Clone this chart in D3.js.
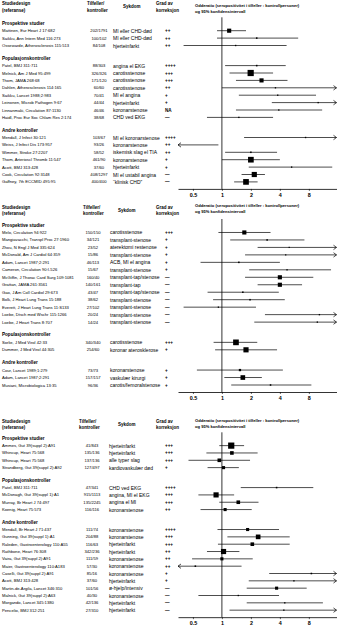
<!DOCTYPE html>
<html><head><meta charset="utf-8">
<script src="https://cdn.jsdelivr.net/npm/d3@7"></script>
<style>body{margin:0;background:#fff}text{font-family:"Liberation Sans",Arial,sans-serif;fill:#000}</style>
</head><body>
<svg id="c" width="340" height="629"></svg>
<script>
// ---------- shared ----------
const sectionNames = ["Prospektive studier","Populasjonskontroller","Andre kontroller"];
const tickValues = [0.5,1,2,4,8];
const tickLabels = ["0.5","1","2","4","8"];

// ---------- panel 1 ----------
const p1Section = [0,0,0,1,1,1,1,1,1,1,1,2,2,2,2,2,2,2];
const p1Study = ["Mattinen, Eur Heart J 17:682","Saikku, Ann Intern Med 116:273","Ossewarde, Atherosclerosis 115:513",
 "Patel, BMJ 311:711","Melnick, Am J Med 95:499","Thom, JAMA 268:68","Dahlen, Atherosclerosis 114:165","Saikku, Lancet 1988;2:983","Leinonen, Microb Pathogen 9:67","Linnanmaki, Circulation 87:1130","Haidl, Proc Eur Soc Chlam Res 2:174",
 "Mendall, J Infect 30:121","Weiss, J Infect Dis 173:957","Wimmer, Stroke 27:2207","Thom, Arterioscl Thromb 11:547","Acott, BMJ 313:428","Cook, Circulation 92:3148","Gaffney, 7th ECCMID 495:95"];
const p1Cases = ["202/1791","100/102","84/108","88/303","326/326","171/120","60/60","70/41","44/44","46/46","38/68","103/67","93/26","58/52","461/90","37/60","408/1297","400/400"];
const p1Disease = ["MI eller CHD-død","MI eller CHD-død","hjerteinfarkt","angina el EKG","carotisstenose","carotisstenose","carotisstenose","MI el angina","hjerteinfarkt","koronarstenose","CHD ved EKG","MI el koronarstenose","koronarstenose","iskemisk slag el TIA","koronarstenose","hjerteinfarkt","MI el ustabil angina","\u201Cklinisk CHD\u201D"];
const p1Grade = ["++","++","++","++++","+++","+++","++","+","+","NA","\u2014","++++","++","++","+","+","\u2014","\u2014"];
const p1OR   = [1.19,2.3,1.39,2.3,1.99,2.58,3.6,3.8,10,3.9,1.5,7.4,null,2.0,2.0,5.3,2.17,1.78];
const p1Low  = [0.89,0.89,0.40,1.08,1.2,1.4,1.0,1.5,3.3,1.4,0.7,1.7,0.1,1.08,1.0,1.9,1.6,1.34];
const p1High = [1.78,6.2,4.7,4.6,3.4,4.8,20,9.5,20,11,3.4,20,0.92,3.74,4.0,14,2.8,2.35];
const p1Weight = [4,1.5,1.3,1.5,6,4,1.3,1.3,1.3,1.3,1.3,1.3,0,1.5,5.5,1.3,5,5.5];

// ---------- panel 2 ----------
const p2Section = [0,0,0,0,0,0,0,0,0,0,0,0,0,1,1,2,2,2];
const p2Study = ["Melo, Circulation 94:922","Mangiavacchi, Transpl Proc 27:1960","Zhou, N Engl J Med 335:624","McDonald, Am J Cardiol 64:359","Adam, Lancet 1987;2:291","Cameron, Circulation 90:I-526","McGiffin, J Thorac Card Surg 109:1081","Grattan, JAMA 261:3561","Gao, J Am Coll Cardiol 29:673","Bolk, J Heart Lung Trans 15:188","Everett, J Heart Lung Trans 11:S133","Loebe, Dtsch med Wschr 115:1266","Loebe, J Heart Trans 8:707",
 "Sorlie, J Med Virol 42:33","Dummer, J Med Virol 44:305",
 "Cour, Lancet 1989;1:279","Adam, Lancet 1987;2:291","Musiani, Microbiologica 13:35"];
const p2Cases = ["150/150","34/121","23/52","15/86","46/113","15/67","160/40","140/161","43/47","38/62","27/102","20/24","14/24","340/340","254/60","73/73","157/157","96/36"];
const p2Disease = ["carotisstenose","transplant-stenose","aterektomi restenose","transplant-stenose","ACB, MI el angina","transplant-stenose","transplant-tap/stenose","transplant-tap","transplant-tap/stenose","transplant-stenose","transplant-stenose","transplant-stenose","transplant-stenose","carotisstenose","koronar aterosklerose","koronarstenose","vaskulær kirurgi","carotis/femoralstenose"];
const p2Grade = ["+++","+","+","+","+","+","\u2014","\u2014","\u2014","\u2014","\u2014","\u2014","\u2014","+++","+","+","+","+"];
const p2OR   = [1.71,2.95,5.0,4.6,1.5,4.75,4.0,4.0,1.65,1.96,0.92,10.3,9.8,1.4,1.78,1.54,1.65,3.2];
const p2Low  = [0.92,1.22,2.35,1.74,0.6,1.92,1.74,2.35,0.71,0.81,0.4,2.8,2.17,0.82,0.85,0.55,1.06,1.25];
const p2High = [3.2,7.2,20,20,4.0,13.6,8.9,6.8,3.9,4.5,2.26,20,20,2.33,3.74,4.3,2.6,8.5];
const p2Weight = [4,1.5,1.2,1.2,1.5,1.3,4,4,1.5,1.5,1.3,1.3,1.3,5.5,5,2.2,4.5,1.5];

// ---------- panel 3 ----------
const p3Section = [0,0,0,0,1,1,1,1,2,2,2,2,2,2,2,2,2,2,2,2];
const p3Study = ["Ammes, Gut 39(suppl 2):A91","Whincup, Heart 75:568","Whincup, Heart 75:568","Strandberg, Gut 39(suppl 2):A92",
 "Patel, BMJ 311:711","McDonagh, Gut 39(suppl 1):A1","Murray, Br Heart J 74:497","Koenig, Heart 75:573",
 "Mendall, Br Heart J 71:437","Gunning, Gut 39(suppl 1):A1","Raleden, Gastroenterology 110:A55","Rathbone, Heart 76:308","Vaira, Gut 39(suppl 2):A91","Maier, Gastroenterology 110:A183","Caselli, Gut 39(suppl 2):A91","Acott, BMJ 313:428","Martin-de-Argila, Lancet 346:310","Malnick, Gut 39(suppl 2):A63","Morgando, Lancet 345:1380","Pencelio, BMJ 312:251"];
const p3Cases = ["41/843","135/136","137/136","127/497","47/341","915/1113","135/2245","116/116","111/74","204/88","116/63","342/236","111/59","57/30","85/16","37/60","101/56","40/30","42/136","27/310"];
const p3Disease = ["hjerteinfarkt","hjerteinfarkt","alle typer slag","kardiovaskulær død","CHD ved EKG","angina, MI el EKG","angina el MI","koronarstenose","koronarstenose","koronarstenose","hjerteinfarkt","hjerteinfarkt","koronarstenose","koronarstenose","koronarstenose","hjerteinfarkt","ø-hjelp/intensiv","koronarstenose","hjerteinfarkt","hjerteinfarkt"];
const p3Grade = ["+++","+++","+++","+","++++","+++","+++","++","++++","+++","+++","++","++","++","+","+","\u2014","\u2014","\u2014","\u2014"];
const p3OR   = [1.25,1.27,0.94,1.04,3.7,0.87,1.48,1.08,1.85,2.38,2.07,1.04,1.0,0.53,8.5,5.6,3.7,1.48,4.5,4.4];
const p3Low  = [0.94,0.69,0.45,0.71,1.57,0.57,0.94,0.6,0.9,1.14,0.91,0.7,0.49,0.2,3.1,1.9,1.81,0.57,1.81,1.2];
const p3High = [1.7,2.35,1.96,1.5,8.9,1.34,2.4,2.04,3.92,5.06,5.06,1.52,2.09,1.6,20,20,7.6,3.92,11.2,20];
const p3Weight = [6,3.5,3.5,3,1.5,5,3.5,3,3,4.5,3.5,5,3,1.5,1.5,1.3,3,1.3,1.3,1.3];

// ---------- layout (positions only) ----------
const panels = [
  {section:p1Section, study:p1Study, cases:p1Cases, disease:p1Disease, grade:p1Grade, or:p1OR, lo:p1Low, hi:p1High, w:p1Weight,
   hdr1:3.5, hdr2:10, ratio1:5, ratio2:11, title0:23.3, step:7.4, casesX:99, disX:113, thX:87, syX:123},
  {section:p2Section, study:p2Study, cases:p2Cases, disease:p2Disease, grade:p2Grade, or:p2OR, lo:p2Low, hi:p2High, w:p2Weight,
   hdr1:207.3, hdr2:213.3, ratio1:205, ratio2:211, title0:225, step:7.47, casesX:93, disX:110, thX:83, syX:118},
  {section:p3Section, study:p3Study, cases:p3Cases, disease:p3Disease, grade:p3Grade, or:p3OR, lo:p3Low, hi:p3High, w:p3Weight,
   hdr1:421, hdr2:427, ratio1:420, ratio2:426.7, title0:438.3, step:7.33, casesX:92, disX:109, thX:79, syX:118}
];

const svg = d3.select("#c");
const x = d3.scaleLog().domain([0.35, 15.5]).range([178, 336.5]);
const [dMin, dMax] = x.domain();
const size = d3.scaleLinear().domain([0,6]).range([0,6.2]);
const gradeX = 165;
const bodyFont = 4.15, bigFont = 5.0, boldFont = 4.5;

panels.forEach(p => {
  const g = svg.append("g");
  const bold = (t, xx, yy, fs=boldFont) => g.append("text").attr("x", xx).attr("y", yy)
      .attr("dominant-baseline","central").attr("font-size", fs).attr("font-weight","bold").text(t);
  // headers
  bold("Studiedesign", 2, p.hdr1); bold("(referanse)", 2, p.hdr2);
  bold("Tilfeller/", p.thX, p.hdr1); bold("kontroller", p.thX, p.hdr2);
  bold("Sykdom", p.syX, (p.hdr1+p.hdr2)/2);
  bold("Grad av", 156, p.hdr1); bold("korreksjon", 156, p.hdr2);
  bold("Odderatio (seropositivitet i tilfeller : kontrollpersoner)", 195, p.ratio1, 4.1);
  bold("og 95% konfidensintervall", 195, p.ratio2, 4.1);

  // compute row positions
  const ys = []; let y = p.title0; let cur = -1; const titles = [];
  p.section.forEach((s, i) => {
    if (s !== cur) {
      if (cur !== -1) y += p.step + 5.3;
      titles.push({name: sectionNames[s], y: y});
      cur = s;
    }
    y += p.step; ys.push(y);
  });
  titles.forEach(t => bold(t.name, 2, t.y, 4.6));

  const axisY = ys[ys.length-1] + 7;
  // reference line
  g.append("line").attr("x1", x(1)).attr("x2", x(1)).attr("y1", p.title0 - 6).attr("y2", axisY)
    .attr("stroke","#000").attr("stroke-width",0.8);

  p.study.forEach((name, i) => {
    const yy = ys[i];
    g.append("text").attr("x", 2).attr("y", yy).attr("dominant-baseline","central").attr("font-size", bodyFont).text(name);
    g.append("text").attr("x", p.casesX).attr("y", yy).attr("text-anchor","middle").attr("dominant-baseline","central").attr("font-size", bodyFont).text(p.cases[i]);
    g.append("text").attr("x", p.disX).attr("y", yy).attr("dominant-baseline","central").attr("font-size", bigFont).text(p.disease[i]);
    g.append("text").attr("x", gradeX).attr("y", yy).attr("dominant-baseline","central").attr("font-size", 4.6).attr("font-weight","bold").text(p.grade[i]);

    const lo = p.lo[i], hi = p.hi[i], or = p.or[i];
    const x1 = x(Math.max(lo, dMin)), x2 = x(Math.min(hi, dMax));
    g.append("line").attr("x1", x1).attr("x2", x2).attr("y1", yy).attr("y2", yy).attr("stroke","#000").attr("stroke-width",0.7);
    if (hi > dMax) g.append("path").attr("d", `M${x2-3},${yy-2.2}L${x2},${yy}L${x2-3},${yy+2.2}`).attr("fill","none").attr("stroke","#000").attr("stroke-width",0.7);
    if (lo < dMin) g.append("path").attr("d", `M${x1+3},${yy-2.2}L${x1},${yy}L${x1+3},${yy+2.2}`).attr("fill","none").attr("stroke","#000").attr("stroke-width",0.7);
    if (or != null && or >= dMin && or <= dMax && p.w[i] > 0) {
      const s = size(p.w[i]);
      g.append("rect").attr("x", x(or) - s/2).attr("y", yy - s/2).attr("width", s).attr("height", s).attr("fill","#000");
    }
  });

  const axis = d3.axisBottom(x).tickValues(tickValues).tickFormat((d,i) => tickLabels[i]).tickSizeInner(2).tickSizeOuter(0).tickPadding(2.5);
  const ag = g.append("g").attr("transform", `translate(0,${axisY})`).call(axis);
  ag.select(".domain").attr("stroke","#000").attr("stroke-width",0.8);
  ag.selectAll(".tick line").attr("stroke","#000").attr("stroke-width",0.6);
  ag.selectAll(".tick text").attr("font-size", 5.4).attr("font-weight","bold").attr("font-family","Liberation Sans, Arial, sans-serif").attr("fill","#000");
});
</script>
</body></html>
